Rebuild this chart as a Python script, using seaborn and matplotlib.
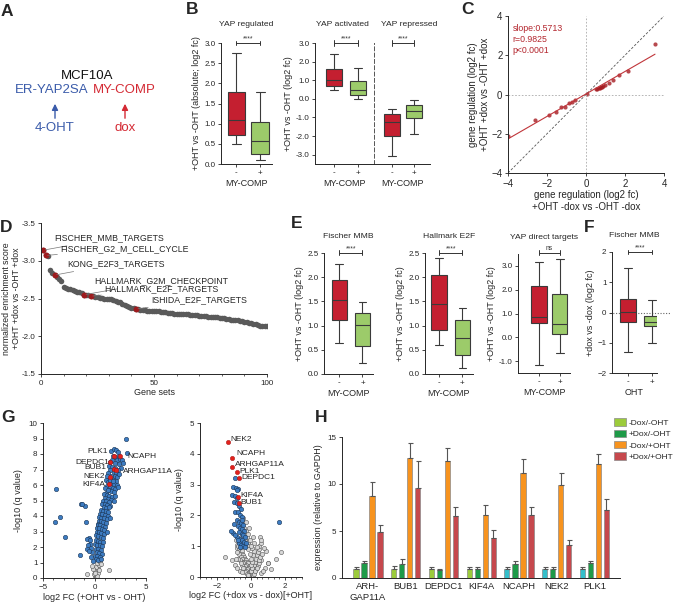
import numpy as np
import pandas as pd
import matplotlib
matplotlib.use('Agg')
import matplotlib.pyplot as plt
from matplotlib.ticker import MultipleLocator, AutoMinorLocator, FormatStrFormatter
import seaborn as sns

sns.set_theme(style='ticks')
plt.rcParams['font.family'] = ['Liberation Sans', 'DejaVu Sans']
plt.rcParams['axes.linewidth'] = 0.7
plt.rcParams['xtick.major.width'] = 0.6
plt.rcParams['ytick.major.width'] = 0.6
plt.rcParams['xtick.minor.width'] = 0.5
plt.rcParams['ytick.minor.width'] = 0.5

# ---------------- data ----------------
box_groups = ['-', '+']
# B: five-number summaries (min, q1, median, q3, max)
b_reg_minus = [0.50, 0.71, 1.09, 1.79, 2.75]
b_reg_plus = [0.10, 0.26, 0.56, 1.04, 1.79]
b_act_minus = [0.50, 0.67, 1.03, 1.60, 2.42]
b_act_plus = [0.00, 0.22, 0.50, 0.98, 1.64]
b_rep_minus = [-3.07, -2.00, -1.23, -0.80, -0.57]
b_rep_plus = [-1.91, -1.02, -0.63, -0.32, -0.04]
# E / F
e_mmb_minus = [0.64, 1.11, 1.52, 1.94, 2.27]
e_mmb_plus = [0.22, 0.58, 1.02, 1.27, 1.48]
e_e2f_minus = [0.59, 0.91, 1.45, 2.04, 2.39]
e_e2f_plus = [0.12, 0.40, 0.75, 1.12, 1.36]
e_yap_minus = [-1.18, 0.58, 0.85, 2.14, 3.18]
e_yap_plus = [-0.68, 0.15, 0.54, 1.82, 3.28]
f_mmb_minus = [-1.30, -0.32, 0.03, 0.44, 1.48]
f_mmb_plus = [-1.01, -0.46, -0.33, -0.12, 0.42]

# C: gene regulation
c_x = [-4.00, -2.59, -1.92, -1.55, -1.28, -1.06, -0.87, -0.71, -0.56, 0.03,
       0.51, 0.58, 0.65, 0.72, 0.77, 0.83, 0.89, 0.99, 1.16, 1.36, 1.70, 2.13, 3.54]
c_y = [-2.13, -1.28, -1.04, -0.89, -0.66, -0.63, -0.41, -0.37, -0.26, 0.03,
       0.27, 0.29, 0.31, 0.34, 0.36, 0.40, 0.43, 0.48, 0.61, 0.75, 1.00, 1.21, 2.59]

# D: normalized enrichment scores, ranked gene sets 1..100
d_nes = [-3.14, -3.07, -3.06, -2.88, -2.84, -2.81, -2.78, -2.76, -2.73, -2.65,
         -2.64, -2.63, -2.62, -2.61, -2.60, -2.59, -2.58, -2.57, -2.55, -2.55,
         -2.54, -2.53, -2.53, -2.52, -2.52, -2.51, -2.51, -2.50, -2.50, -2.49,
         -2.49, -2.48, -2.47, -2.46, -2.45, -2.43, -2.41, -2.40, -2.39, -2.38,
         -2.37, -2.36, -2.36, -2.35, -2.35, -2.35, -2.34, -2.34, -2.34, -2.33,
         -2.33, -2.33, -2.32, -2.32, -2.32, -2.31, -2.31, -2.31, -2.30, -2.30,
         -2.30, -2.30, -2.29, -2.29, -2.29, -2.28, -2.28, -2.28, -2.28, -2.27,
         -2.27, -2.27, -2.27, -2.26, -2.26, -2.26, -2.25, -2.25, -2.24, -2.24,
         -2.24, -2.23, -2.23, -2.22, -2.22, -2.21, -2.21, -2.20, -2.20, -2.19,
         -2.19, -2.18, -2.17, -2.16, -2.16, -2.15, -2.14, -2.14, -2.13, -2.13]
d_rank = list(range(1, 101))
d_hl_rank = [1, 2, 6, 19, 22, 42]
d_hl_names = ['FISCHER_MMB_TARGETS', 'FISCHER_G2_M_CELL_CYCLE', 'KONG_E2F3_TARGETS',
              'HALLMARK_G2M_CHECKPOINT', 'HALLMARK_E2F_TARGETS', 'ISHIDA_E2F_TARGETS']
d_label_x = [6.0, 8.7, 11.4, 23.7, 28.2, 48.9]
d_label_y = [-3.30, -3.16, -2.96, -2.73, -2.63, -2.48]

# G1: volcano +OHT vs -OHT
g1_blue = [(1.6, 8.2), (1.9, 8.3), (2.1, 8.25), (2.3, 8.1), (1.8, 7.9), (2.0, 7.8), (2.4, 7.85), (1.7, 7.6),
           (2.2, 7.6), (2.5, 7.7), (1.5, 7.5), (1.95, 7.45), (2.35, 7.35), (2.7, 7.6), (2.6, 7.1),
           (1.4, 7.2), (1.7, 7.15), (2.0, 7.1), (2.25, 7.0), (1.55, 6.95), (1.85, 6.85), (2.1, 6.8), (1.3, 6.75),
           (1.65, 6.6), (1.95, 6.55), (2.2, 6.5), (1.45, 6.45), (1.75, 6.35), (2.4, 6.7), (1.2, 6.6), (2.05, 6.25),
           (1.1, 6.3), (1.35, 6.2), (1.6, 6.1), (1.85, 6.05), (2.15, 6.0), (1.25, 5.95), (1.5, 5.85), (1.75, 5.8),
           (2.0, 5.75), (1.0, 5.8), (1.4, 5.65), (1.65, 5.6), (1.9, 5.55), (2.3, 5.9), (1.15, 5.5), (1.55, 6.35),
           (1.3, 5.7), (1.8, 6.25),
           (0.9, 5.4), (1.2, 5.35), (1.45, 5.3), (1.7, 5.25), (1.0, 5.15), (1.3, 5.1), (1.6, 5.05), (0.8, 5.0),
           (1.1, 4.95), (1.4, 4.9), (1.85, 5.0), (0.7, 4.8), (1.0, 4.75), (1.25, 4.7), (1.55, 4.65), (0.9, 4.55),
           (1.15, 4.5), (1.45, 4.55), (2.0, 5.3),
           (0.6, 4.4), (0.85, 4.35), (1.1, 4.3), (1.35, 4.25), (0.5, 4.15), (0.75, 4.1), (1.0, 4.05), (1.3, 4.0),
           (0.45, 3.95), (0.65, 3.9), (0.9, 3.85), (1.2, 3.8), (0.4, 3.7), (0.6, 3.65), (0.85, 3.6), (1.1, 3.55),
           (1.5, 3.9), (0.3, 3.5),
           (0.35, 3.45), (0.55, 3.4), (0.8, 3.35), (1.05, 3.3), (0.25, 3.25), (0.45, 3.2), (0.7, 3.15), (0.95, 3.1),
           (0.2, 3.0), (0.4, 2.95), (0.65, 2.9), (0.9, 2.85), (0.15, 2.75), (0.35, 2.7), (0.6, 2.65), (0.85, 2.6),
           (1.2, 3.0), (-0.55, 2.55), (-0.7, 2.5), (-0.45, 2.45),
           (0.1, 2.45), (0.3, 2.4), (0.55, 2.35), (0.8, 2.3), (-0.4, 2.2), (-0.6, 2.1), (0.05, 2.2), (0.25, 2.15),
           (0.5, 2.1), (0.75, 2.05), (-0.3, 1.95), (-0.75, 1.9), (0.1, 1.9), (0.35, 1.85), (0.6, 1.8), (-0.2, 1.7),
           (0.2, 1.65), (0.45, 1.6), (-0.5, 1.75), (0.7, 1.55),
           (0.0, 1.45), (0.25, 1.4), (0.5, 1.35), (-0.35, 1.35), (0.1, 1.2), (0.35, 1.15), (0.6, 1.25), (-0.1, 1.1),
           (-3.72, 5.74), (-3.79, 3.61), (-3.33, 3.96), (-2.91, 2.67), (-1.29, 4.75), (-0.97, 4.65), (-1.2, 4.8),
           (-0.81, 3.63), (-1.39, 1.46), (3.01, 8.97), (3.14, 8.04), (2.8, 7.4)]
g1_gray = [(0.0, 0.05), (0.1, 0.15), (-0.05, 0.25), (0.2, 0.35), (0.05, 0.45), (0.3, 0.6), (0.15, 0.7),
           (0.4, 0.85), (0.25, 0.95), (0.5, 1.05), (-0.1, 0.6), (0.35, 0.3), (-0.71, 0.26), (1.36, 0.52),
           (0.1, 0.0), (0.2, 0.1), (0.0, 0.3), (-0.2, 0.8), (0.6, 0.9), (0.45, 0.5)]
g1_red = [(1.94, 7.9), (2.43, 7.9), (1.55, 7.46), (1.91, 7.01), (2.05, 6.95), (1.46, 6.54), (1.36, 6.08)]
g1_lab = ['PLK1', 'NCAPH', 'DEPDC1', 'BUB1', 'ARHGAP11A', 'NEK2', 'KIF4A']
g1_lab_xy = [(1.26, 8.13), (3.2, 7.81), (1.46, 7.48), (1.17, 7.1), (2.72, 6.9), (0.97, 6.58), (1.07, 6.06)]
g1_lab_ha = ['right', 'left', 'right', 'right', 'left', 'right', 'right']

# G2: volcano +dox vs -dox [+OHT]
g2_blue = [(-0.94, 3.20), (-1.04, 2.93), (-0.90, 2.90), (-0.75, 2.85), (-0.85, 2.82), (-1.14, 2.66), (-0.94, 2.64),
           (-0.80, 2.55), (-1.00, 2.45), (-0.85, 2.40), (-0.70, 2.30), (-0.60, 2.20), (-0.95, 2.12), (-0.78, 2.10),
           (-0.65, 2.00), (-0.55, 1.95), (-0.85, 1.85), (-0.70, 1.80), (-0.58, 1.75), (-1.02, 1.73), (-0.45, 1.70),
           (-0.75, 1.65), (-0.62, 1.60), (-0.50, 1.55), (-0.40, 1.50), (-1.06, 1.43), (-0.68, 1.45), (-0.55, 1.40),
           (-0.45, 1.35), (-0.35, 1.30), (-0.80, 1.30), (-0.62, 1.25), (-0.50, 1.20), (-0.40, 1.15), (-0.30, 1.10),
           (-0.70, 1.12), (-0.58, 1.05), (-0.45, 1.00), (-0.35, 0.97), (-0.62, 0.98), (-1.2, 1.5), (-0.95, 1.35),
           (-0.5, 1.85), (-0.75, 1.2), (1.65, 1.80)]
g2_gray = [(-0.9, 1.2), (-0.85, 1.05), (-0.8, 0.95), (-0.75, 1.0), (-0.7, 0.9), (-0.65, 0.85), (-0.6, 0.8),
           (-0.55, 0.85), (-0.5, 0.75), (-0.45, 0.7), (-0.4, 0.65), (-0.35, 0.6), (-0.3, 0.55), (-0.25, 0.5),
           (-0.2, 0.45), (-0.15, 0.35), (-0.1, 0.25), (-0.05, 0.15), (0.0, 0.05), (-0.7, 0.75), (-0.6, 0.65),
           (-0.5, 0.6), (-0.4, 0.5), (-0.3, 0.4), (-0.2, 0.3), (-0.1, 0.2), (-0.55, 0.5), (-0.45, 0.45),
           (-0.35, 0.35), (-0.25, 0.25), (-0.15, 0.15), (-0.05, 0.08), (-0.65, 0.55), (-0.5, 0.4), (-0.4, 0.3),
           (-0.3, 0.2), (-0.2, 0.12), (-0.1, 0.05), (-0.75, 0.6), (-0.6, 0.45), (-0.45, 0.3), (-0.35, 0.15),
           (-0.25, 0.1), (-0.15, 0.05), (-1.51, 0.66), (-1.1, 0.55), (-0.95, 0.4), (-0.8, 0.3), (-0.65, 0.2),
           (-0.5, 0.15), (-0.85, 0.8), (-0.9, 0.6),
           (0.05, 0.1), (0.1, 0.2), (0.15, 0.3), (0.2, 0.4), (0.25, 0.5), (0.3, 0.6), (0.35, 0.7), (0.4, 0.8),
           (0.45, 0.9), (0.5, 1.0), (0.1, 0.05), (0.2, 0.15), (0.3, 0.25), (0.4, 0.35), (0.5, 0.45), (0.6, 0.55),
           (0.15, 0.1), (0.25, 0.2), (0.35, 0.3), (0.45, 0.55), (0.55, 0.65), (0.65, 0.75), (0.33, 0.98),
           (0.53, 1.31), (0.57, 1.09), (0.57, 0.14), (0.98, 0.46), (1.02, 0.44), (1.45, 0.57), (1.75, 0.80),
           (0.8, 0.3), (0.7, 0.2), (1.2, 0.25), (0.9, 0.85), (0.75, 0.95), (0.6, 1.2),
           (0.0, 0.2), (0.05, 0.3), (-0.02, 0.4), (0.08, 0.5), (0.0, 0.6), (0.1, 0.7), (-0.05, 0.75), (0.15, 0.85),
           (0.05, 0.95), (-0.1, 1.05), (0.2, 1.1), (-0.15, 0.9),
           (-0.4, 1.6), (-0.3, 1.5), (-0.25, 1.3), (-0.35, 1.2), (-0.2, 1.15), (-0.3, 1.8), (-0.15, 1.4),
           (-0.45, 1.9), (-0.55, 1.3), (-0.05, 1.2), (0.0, 1.0), (0.1, 1.3), (-0.1, 1.6)]
g2_red = [(-1.33, 4.39), (-1.10, 3.85), (-1.10, 3.56), (-0.80, 3.40), (-0.71, 3.22), (-0.75, 2.60), (-0.69, 2.39)]
g2_lab = ['NEK2', 'NCAPH', 'ARHGAP11A', 'PLK1', 'DEPDC1', 'KIF4A', 'BUB1']
g2_lab_xy = [(-1.19, 4.48), (-0.88, 4.02), (-0.94, 3.66), (-0.71, 3.42), (-0.55, 3.22), (-0.61, 2.66), (-0.61, 2.42)]

# H: qPCR
h_genes = ['ARHGAP11A', 'BUB1', 'DEPDC1', 'KIF4A', 'NCAPH', 'NEK2', 'PLK1']
h_ticklabels = ['ARH-\nGAP11A', 'BUB1', 'DEPDC1', 'KIF4A', 'NCAPH', 'NEK2', 'PLK1']
h_conds = ['-Dox/-OHT', '+Dox/-OHT', '-Dox/+OHT', '+Dox/+OHT']
h_dox0_oht0 = [0.96, 0.96, 0.96, 0.96, 0.92, 0.92, 0.92]
h_dox1_oht0 = [1.60, 1.49, 0.85, 0.96, 1.49, 0.92, 1.63]
h_dox0_oht1 = [8.76, 12.77, 12.41, 6.65, 11.20, 9.90, 12.10]
h_dox1_oht1 = [4.86, 9.57, 6.60, 4.29, 6.70, 3.50, 7.23]
h_err_dox0_oht0 = [0.21, 0.28, 0.21, 0.21, 0.21, 0.21, 0.21]
h_err_dox1_oht0 = [0.17, 0.53, 0.07, 0.21, 0.28, 0.21, 0.14]
h_err_dox0_oht1 = [1.42, 1.59, 1.42, 1.14, 1.46, 1.23, 1.09]
h_err_dox1_oht1 = [0.78, 2.88, 0.92, 0.81, 0.89, 0.50, 1.14]

# ---------------- style ----------------
RED = '#C41F30'
GREEN = '#9CCB6A'
BLUE_T = '#3A5BAA'
RED_T = '#D42A34'
TICK_FS = 5.8
LAB_FS = 6.5
TITLE_FS = 6.1
W, H = 675, 604

fig = plt.figure(figsize=(W / 100, H / 100), dpi=100)


def axp(l, t, r, b):
    return fig.add_axes([l / W, 1 - b / H, (r - l) / W, (b - t) / H])


def style(ax, fs=TICK_FS):
    sns.despine(ax=ax)
    ax.tick_params(axis='both', which='major', length=2.5, labelsize=fs, pad=1.5)
    ax.tick_params(axis='both', which='minor', length=1.5)


def boxpanel(ax, minus, plus, width=0.65):
    df = pd.DataFrame({'grp': ['-'] * len(minus) + ['+'] * len(plus),
                       'val': list(minus) + list(plus)})
    sns.boxplot(data=df, x='grp', y='val', hue='grp', order=box_groups, hue_order=box_groups,
                palette={'-': RED, '+': GREEN}, whis=(0, 100), width=width, saturation=1,
                linecolor='#3a3a3a', linewidth=0.8, fliersize=0, legend=False, ax=ax)
    ax.set_xlabel('')
    ax.set_ylabel('')
    style(ax)


def bracket(ax, y, text, d):
    ax.plot([0, 1], [y, y], color='#333', lw=0.7, clip_on=False)
    ax.plot([0, 0], [y - d, y + d], color='#333', lw=0.7, clip_on=False)
    ax.plot([1, 1], [y - d, y + d], color='#333', lw=0.7, clip_on=False)
    ax.text(0.5, y + d * 0.2, text, ha='center', va='bottom', fontsize=4.8, color='#333')


def letter(x, y, s):
    fig.text(x / W, 1 - y / H, s, fontsize=12.5, fontweight='bold', ha='left', va='center')


# ---------------- A ----------------
letter(1, 12, 'A')
fig.text(87 / W, 1 - 76 / H, 'MCF10A', fontsize=9.5, ha='center', va='center', color='#111')
fig.text(89 / W, 1 - 90 / H, 'ER-YAP2SA', fontsize=9.5, ha='right', va='center', color=BLUE_T)
fig.text(93 / W, 1 - 90 / H, 'MY-COMP', fontsize=9.5, ha='left', va='center', color=RED_T)
for xa, col, lab in [(55, BLUE_T, '4-OHT'), (125, RED_T, 'dox')]:
    fig.add_artist(matplotlib.patches.FancyArrowPatch((xa / W, 1 - 121 / H), (xa / W, 1 - 101 / H),
                   transform=fig.transFigure, arrowstyle='-|>', mutation_scale=9, color=col, lw=1.0))
    fig.text(xa / W, 1 - 128 / H, lab, fontsize=9.5, ha='center', va='center', color=col)

# ---------------- B ----------------
letter(186, 9, 'B')
axB1 = axp(221, 43, 272, 164)
boxpanel(axB1, b_reg_minus, b_reg_plus, width=0.75)
axB1.set_ylim(0, 3.0)
axB1.set_xlim(-0.65, 1.5)
axB1.yaxis.set_major_locator(MultipleLocator(0.5))
axB1.yaxis.set_major_formatter(FormatStrFormatter('%.1f'))
axB1.set_ylabel('+OHT vs -OHT (absolute; log2 fc)', fontsize=LAB_FS, labelpad=2)
axB1.set_xlabel('MY-COMP', fontsize=LAB_FS, labelpad=2)
axB1.set_title('YAP regulated', fontsize=TITLE_FS, pad=12)
bracket(axB1, 3.0, '****', 0.06)

axB2 = axp(315, 43, 374, 164)
boxpanel(axB2, b_act_minus, b_act_plus)
axB2.set_ylim(-3.5, 3.0)
axB2.set_xlim(-0.79, 1.67)
axB2.set_yticks([-3, -2, -1, 0, 1, 2, 3])
axB2.yaxis.set_major_formatter(FormatStrFormatter('%.1f'))
axB2.set_ylabel('+OHT vs -OHT (log2 fc)', fontsize=LAB_FS, labelpad=2)
axB2.set_xlabel('MY-COMP', fontsize=LAB_FS, labelpad=2)
axB2.set_title('YAP activated', fontsize=TITLE_FS, pad=12, x=0.47)
bracket(axB2, 3.0, '****', 0.14)

axB3 = axp(374, 43, 430, 164)
boxpanel(axB3, b_rep_minus, b_rep_plus, width=0.7)
axB3.set_ylim(-3.5, 3.0)
axB3.set_xlim(-0.82, 1.73)
axB3.set_yticks([])
axB3.spines['left'].set_linestyle((0, (4, 2.5)))
axB3.spines['left'].set_color('#555')
axB3.set_xlabel('MY-COMP', fontsize=LAB_FS, labelpad=2)
axB3.set_title('YAP repressed', fontsize=TITLE_FS, pad=12, x=0.62)
bracket(axB3, 3.0, '****', 0.14)

# ---------------- C ----------------
letter(461, 10, 'C')
axC = axp(508, 16, 664, 173)
axC.plot([-4, 4], [-4, 4], ls=(0, (3, 2)), color='#555', lw=0.6)
axC.axhline(0, ls=(0, (2, 2)), color='#aaa', lw=0.6)
axC.axvline(0, ls=(0, (2, 2)), color='#aaa', lw=0.6)
sns.regplot(x=c_x, y=c_y, ci=None, ax=axC,
            scatter_kws=dict(s=9, color='#A51C22', linewidths=0),
            line_kws=dict(color='#C0353A', lw=0.8))
axC.set_xlim(-4, 4)
axC.set_ylim(-4, 4)
axC.set_xticks([-4, -2, 0, 2, 4])
axC.set_yticks([-4, -2, 0, 2, 4])
style(axC, fs=7)
axC.set_xlabel('gene regulation (log2 fc)\n+OHT -dox vs -OHT -dox', fontsize=LAB_FS + 0.5, labelpad=1, linespacing=1.2)
axC.set_ylabel('gene regulation (log2 fc)\n+OHT +dox vs -OHT +dox', fontsize=LAB_FS + 0.5, labelpad=1, linespacing=1.2)
for i, t in enumerate(['slope:0.5713', 'r=0.9825', 'p<0.0001']):
    axC.text(0.03, 0.92 - i * 0.07, t, transform=axC.transAxes, fontsize=6.3, color='#B3252D', va='center')

# ---------------- D ----------------
letter(0, 228, 'D')
axD = axp(41, 223, 267, 374)
dfD = pd.DataFrame({'rank': d_rank, 'nes': d_nes})
sns.scatterplot(data=dfD, x='rank', y='nes', color='#5a5a5a', s=16, linewidth=0, ax=axD)
dfDh = dfD[dfD['rank'].isin(d_hl_rank)]
sns.scatterplot(data=dfDh, x='rank', y='nes', color='#9E1B1E', s=18, linewidth=0, ax=axD)
for r, name, lx, ly in zip(d_hl_rank, d_hl_names, d_label_x, d_label_y):
    yv = d_nes[r - 1]
    axD.annotate(name, xy=(r, yv), xytext=(lx, ly), fontsize=6.3, ha='left', va='center',
                 arrowprops=dict(arrowstyle='-', color='#777', lw=0.5, shrinkA=0, shrinkB=1.5))
axD.set_xlim(0, 100)
axD.set_ylim(-1.5, -3.5)
axD.set_yticks([-3.5, -3.0, -2.5, -2.0, -1.5])
axD.yaxis.set_major_formatter(FormatStrFormatter('%.1f'))
axD.set_xticks([0, 50, 100])
axD.xaxis.set_minor_locator(MultipleLocator(10))
style(axD)
axD.set_xlabel('Gene sets', fontsize=LAB_FS, labelpad=1)
axD.set_ylabel('normalized enrichment score\n+OHT +dox vs -OHT +dox', fontsize=6.3, linespacing=1.15)
axD.yaxis.set_label_coords(-0.088, 0.5)

# ---------------- E ----------------
letter(291, 224, 'E')
axE1 = axp(324, 253, 373, 374)
boxpanel(axE1, e_mmb_minus, e_mmb_plus)
axE1.set_ylim(0, 2.5)
axE1.set_xlim(-0.65, 1.45)
axE1.yaxis.set_major_locator(MultipleLocator(0.5))
axE1.yaxis.set_major_formatter(FormatStrFormatter('%.1f'))
axE1.set_ylabel('+OHT vs -OHT (log2 fc)', fontsize=LAB_FS, labelpad=2)
axE1.set_xlabel('MY-COMP', fontsize=LAB_FS, labelpad=2)
axE1.set_title('Fischer MMB', fontsize=TITLE_FS, pad=11)
bracket(axE1, 2.51, '****', 0.05)

axE2 = axp(425, 253, 473, 374)
boxpanel(axE2, e_e2f_minus, e_e2f_plus)
axE2.set_ylim(0, 2.5)
axE2.set_xlim(-0.6, 1.45)
axE2.yaxis.set_major_locator(MultipleLocator(0.5))
axE2.yaxis.set_major_formatter(FormatStrFormatter('%.1f'))
axE2.set_ylabel('+OHT vs -OHT (log2 fc)', fontsize=LAB_FS, labelpad=2)
axE2.set_xlabel('MY-COMP', fontsize=LAB_FS, labelpad=2)
axE2.set_title('Hallmark E2F', fontsize=TITLE_FS, pad=11)
bracket(axE2, 2.51, '****', 0.05)

axE3 = axp(518, 254, 570, 373)
boxpanel(axE3, e_yap_minus, e_yap_plus, width=0.75)
axE3.set_ylim(-1.5, 3.5)
axE3.set_xlim(-1.0, 1.5)
axE3.set_yticks([-1, 0, 1, 2, 3])
axE3.yaxis.set_major_formatter(FormatStrFormatter('%.1f'))
axE3.set_ylabel('+OHT vs -OHT (log2 fc)', fontsize=LAB_FS, labelpad=2)
axE3.set_xlabel('MY-COMP', fontsize=LAB_FS, labelpad=2)
axE3.set_title('YAP direct targets', fontsize=TITLE_FS, pad=11)
bracket(axE3, 3.55, 'ns', 0.1)

# ---------------- F ----------------
letter(584, 227, 'F')
axF = axp(612, 252, 657, 373)
boxpanel(axF, f_mmb_minus, f_mmb_plus)
axF.set_ylim(-2, 2)
axF.set_xlim(-0.67, 1.21)
axF.set_yticks([-2, -1, 0, 1, 2])
axF.plot([-0.75, 1.75], [0, 0], ls=(0, (1, 1.5)), color='#666', lw=0.8, clip_on=False, zorder=0.5)
axF.set_ylabel('+dox vs -dox (log2 fc)', fontsize=LAB_FS, labelpad=2)
axF.set_xlabel('OHT', fontsize=LAB_FS, labelpad=2)
axF.set_title('Fischer MMB', fontsize=TITLE_FS, pad=11)
bracket(axF, 2.0, '****', 0.08)

# ---------------- G ----------------
letter(1, 418, 'G')


def volcano(ax, blue, gray, red):
    gx, gy = zip(*gray)
    bx, by = zip(*blue)
    rx, ry = zip(*red)
    sns.scatterplot(x=list(gx), y=list(gy), color='#d8d8d8', edgecolor='#555', linewidth=0.4, s=9, ax=ax)
    sns.scatterplot(x=list(bx), y=list(by), color='#3D7CC2', edgecolor='#1C3656', linewidth=0.4, s=10, ax=ax)
    sns.scatterplot(x=list(rx), y=list(ry), color='#E3211C', edgecolor='#9a1010', linewidth=0.3, s=10, ax=ax)


axG1 = axp(43, 423, 146, 578)
volcano(axG1, g1_blue, g1_gray, g1_red)
for name, (tx, ty), ha in zip(g1_lab, g1_lab_xy, g1_lab_ha):
    axG1.text(tx, ty, name, fontsize=6, ha=ha, va='center', clip_on=False)
axG1.set_xlim(-5, 5)
axG1.set_ylim(0, 10)
axG1.set_xticks([-5, 0, 5])
axG1.xaxis.set_minor_locator(MultipleLocator(1))
axG1.yaxis.set_major_locator(MultipleLocator(1))
style(axG1)
axG1.set_xlabel('log2 FC (+OHT vs - OHT)', fontsize=LAB_FS, labelpad=2)
axG1.set_ylabel('-log10 (q value)', fontsize=LAB_FS, labelpad=4)

axG2 = axp(200, 423, 302, 577)
volcano(axG2, g2_blue, g2_gray, g2_red)
for name, (tx, ty) in zip(g2_lab, g2_lab_xy):
    axG2.text(tx, ty, name, fontsize=6, ha='left', va='center', clip_on=False)
axG2.set_xlim(-3, 3)
axG2.set_ylim(0, 5)
axG2.set_xticks([-2, 0, 2])
axG2.xaxis.set_minor_locator(AutoMinorLocator(6))
axG2.yaxis.set_major_locator(MultipleLocator(1))
style(axG2)
axG2.set_xlabel('log2 FC (+dox vs - dox)[+OHT]', fontsize=LAB_FS, labelpad=1)
axG2.set_ylabel('-log10 (q value)', fontsize=LAB_FS, labelpad=4)

# ---------------- H ----------------
letter(315, 418, 'H')
axH = axp(342, 437, 620, 578)
vals = [h_dox0_oht0, h_dox1_oht0, h_dox0_oht1, h_dox1_oht1]
errs = [h_err_dox0_oht0, h_err_dox1_oht0, h_err_dox0_oht1, h_err_dox1_oht1]
rows = []
for c, v in zip(h_conds, vals):
    for g, val in zip(h_genes, v):
        rows.append({'gene': g, 'cond': c, 'val': val})
dfH = pd.DataFrame(rows)
h_pal = {'-Dox/-OHT': '#9CCB3B', '+Dox/-OHT': '#1E9A48', '-Dox/+OHT': '#F7931E', '+Dox/+OHT': '#C6484D'}
sns.barplot(data=dfH, x='gene', y='val', hue='cond', order=h_genes, hue_order=h_conds, palette=h_pal,
            width=0.85, gap=0.35, errorbar=None, saturation=1, edgecolor='#8a8a8a', linewidth=0.5,
            ax=axH)
for cont, err in zip(axH.containers, errs):
    for bar, e in zip(cont, err):
        xc = bar.get_x() + bar.get_width() / 2
        axH.errorbar(xc, bar.get_height(), yerr=[[0], [e]], fmt='none', ecolor='#555', elinewidth=0.8,
                     capsize=1.8, capthick=0.8)
for bar in list(axH.containers[0])[4:]:
    bar.set_facecolor('#35BFCB')
handles, labels = axH.get_legend_handles_labels()
axH.legend(handles, labels, loc='upper left', bbox_to_anchor=(611 / W, 1 - 415 / H),
           bbox_transform=fig.transFigure, frameon=False, fontsize=6.0, handlelength=1.45,
           handleheight=0.95, borderaxespad=0, labelspacing=0.35, handletextpad=0.25)
axH.set_xlim(-0.69, 6.68)
axH.set_ylim(0, 15)
axH.set_yticks([0, 5, 10, 15])
axH.set_xticks(range(len(h_genes)))
axH.set_xticklabels(h_ticklabels)
style(axH)
axH.tick_params(axis='x', length=0, labelsize=6.8, pad=3)
axH.set_xlabel('')
axH.set_ylabel('expression (relative to GAPDH)', fontsize=LAB_FS, labelpad=3)

fig.savefig('out.png', dpi=100)
